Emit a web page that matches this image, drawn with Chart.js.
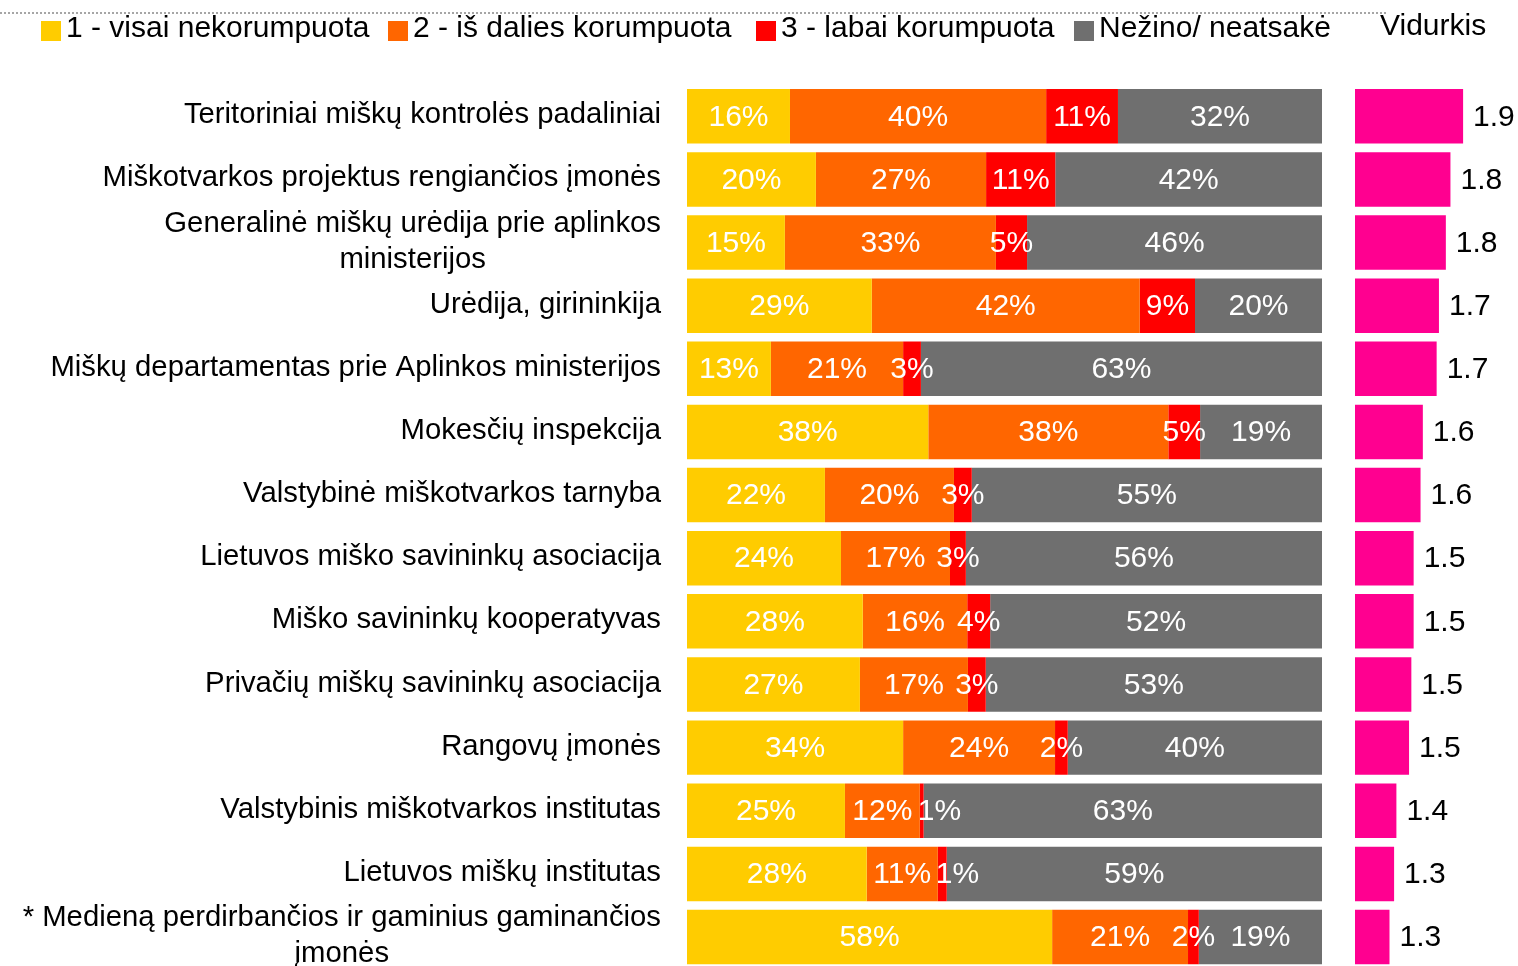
<!DOCTYPE html>
<html><head><meta charset="utf-8">
<script src="https://cdn.jsdelivr.net/npm/chart.js@4.4.0/dist/chart.umd.min.js"></script>
<style>
html,body{margin:0;padding:0;background:#fff;overflow:hidden;width:1518px;height:966px;}
#wrap{position:relative;width:1518px;height:966px;overflow:hidden;font-family:"Liberation Sans",Arial,sans-serif;}
canvas{position:absolute;top:0;}
#c1{left:0px}
#c2{left:1340px}
.dots{position:absolute;left:0;top:12px;width:1386px;height:0;border-top:2px dotted #a6a6a6;}
.lg{position:absolute;font-size:30px;line-height:30px;color:#000;white-space:nowrap;top:12px;}
.sw{position:absolute;width:20px;height:20px;top:21px;}
</style></head>
<body><div id="wrap">
<canvas id="c1" width="1340" height="980"></canvas>
<canvas id="c2" width="178" height="980"></canvas>
<div class="dots"></div>
<div id="legend"></div>
</div>
<script>
// ---------- DATA ----------
const categories = [
  ["Teritoriniai miškų kontrolės padaliniai"],
  ["Miškotvarkos projektus rengiančios įmonės"],
  ["Generalinė miškų urėdija prie aplinkos", "ministerijos"],
  ["Urėdija, girininkija"],
  ["Miškų departamentas prie Aplinkos ministerijos"],
  ["Mokesčių inspekcija"],
  ["Valstybinė miškotvarkos tarnyba"],
  ["Lietuvos miško savininkų asociacija"],
  ["Miško savininkų kooperatyvas"],
  ["Privačių miškų savininkų asociacija"],
  ["Rangovų įmonės"],
  ["Valstybinis miškotvarkos institutas"],
  ["Lietuvos miškų institutas"],
  ["* Medieną perdirbančios ir gaminius gaminančios", "įmonės"]
];
const seriesNames = ["1 - visai nekorumpuota", "2 - iš dalies korumpuota", "3 - labai korumpuota", "Nežino/ neatsakė"];
const visaiNekorumpuota = [16.2, 20.3, 15.4, 29.1, 13.2, 38.0, 21.7, 24.3, 27.6, 27.2, 34.0, 24.9, 28.3, 57.5];
const isDaliesKorumpuota = [40.3, 26.8, 33.2, 42.2, 20.8, 37.8, 20.3, 17.2, 16.4, 17.0, 23.9, 11.8, 11.2, 21.4];
const labaiKorumpuota = [11.3, 10.9, 4.9, 8.7, 2.8, 5.0, 2.8, 2.5, 3.6, 2.8, 2.0, 0.6, 1.4, 1.7];
const nezinoNeatsake = [32.1, 42.0, 46.4, 20.0, 63.1, 19.2, 55.1, 56.2, 52.1, 52.9, 40.0, 62.8, 59.1, 19.4];
const vidurkisTitle = "Vidurkis";
const vidurkis = [1.94, 1.83, 1.79, 1.73, 1.71, 1.59, 1.57, 1.51, 1.51, 1.49, 1.47, 1.36, 1.34, 1.30];

// ---------- STYLE ----------
const colors = ["#FFCC00", "#FF6600", "#FF0000", "#6F6F6F"];
const pink = "#FF0090";
const FONT = '"Liberation Sans", Arial, sans-serif';
const FS = 30;
const FS_CAT = 29.3;

// legend (HTML text)
const legendBoxX = [41, 388, 756, 1074];
const lg = document.getElementById('legend');
seriesNames.forEach((n, i) => {
  const b = document.createElement('div'); b.className = 'sw';
  b.style.left = legendBoxX[i] + 'px'; b.style.background = colors[i]; lg.appendChild(b);
  const t = document.createElement('div'); t.className = 'lg';
  t.style.left = (legendBoxX[i] + 25) + 'px'; t.textContent = n; lg.appendChild(t);
});
const vt = document.createElement('div'); vt.className = 'lg';
vt.style.left = '1380px'; vt.style.top = '10px'; vt.textContent = vidurkisTitle; lg.appendChild(vt);

// plugins
const catLabels = {
  id: 'catLabels',
  afterDraw(chart) {
    const ctx = chart.ctx, ys = chart.scales.y;
    ctx.save();
    ctx.font = FS_CAT + 'px ' + FONT; ctx.fillStyle = '#000';
    ctx.textAlign = 'center'; ctx.textBaseline = 'middle';
    const rightEdge = 661, lh = 36;
    categories.forEach((lines, i) => {
      const yc = ys.getPixelForValue(i) - 1;
      const w = Math.max(...lines.map(l => ctx.measureText(l).width));
      const cx = rightEdge - w / 2;
      const y0 = yc - (lines.length - 1) * lh / 2;
      lines.forEach((l, k) => ctx.fillText(l, cx, y0 + k * lh));
    });
    ctx.restore();
  }
};
const series = [visaiNekorumpuota, isDaliesKorumpuota, labaiKorumpuota, nezinoNeatsake];
const segLabels = {
  id: 'segLabels',
  afterDatasetsDraw(chart) {
    const ctx = chart.ctx;
    ctx.save();
    ctx.font = FS + 'px ' + FONT; ctx.fillStyle = '#fff'; ctx.textBaseline = 'middle';
    chart.data.datasets.forEach((ds, di) => {
      chart.getDatasetMeta(di).data.forEach((bar, i) => {
        const r = Math.round(series[di][i]);
        const txt = r + '%';
        const l = Math.min(bar.x, bar.base), rr = Math.max(bar.x, bar.base);
        if (r <= 1) { ctx.textAlign = 'left'; ctx.fillText(txt, l - 2, bar.y + 1); }
        else { ctx.textAlign = 'center'; ctx.fillText(txt, (l + rr) / 2, bar.y + 1); }
      });
    });
    ctx.restore();
  }
};
const valLabels = {
  id: 'valLabels',
  afterDatasetsDraw(chart) {
    const ctx = chart.ctx;
    ctx.save();
    ctx.font = FS + 'px ' + FONT; ctx.fillStyle = '#000';
    ctx.textAlign = 'left'; ctx.textBaseline = 'middle';
    chart.getDatasetMeta(0).data.forEach((bar, i) => {
      ctx.fillText(vidurkis[i].toFixed(1), bar.x + 10, bar.y + 1);
    });
    ctx.restore();
  }
};

// 100% stacked: each row normalised to its total
const rowTotals = categories.map((_, i) => series.reduce((s, d) => s + d[i], 0));
const shares = series.map(d => d.map((v, i) => v / rowTotals[i] * 100));
const labelsText = categories.map(c => c.join(' '));
const areaTop = 84.7, areaBottom = 968.6, canvasH = 980;
const barPct = 0.863;

new Chart(document.getElementById('c1'), {
  type: 'bar',
  data: {
    labels: labelsText,
    datasets: shares.map((d, i) => ({
      label: seriesNames[i], data: d, backgroundColor: colors[i], borderWidth: 0,
      barPercentage: barPct, categoryPercentage: 1
    }))
  },
  options: {
    indexAxis: 'y', responsive: false, animation: false,
    layout: { padding: { left: 687, right: 1340 - 1322, top: areaTop, bottom: canvasH - areaBottom } },
    plugins: { legend: { display: false }, tooltip: { enabled: false } },
    scales: {
      x: { stacked: true, min: 0, max: 100, display: false },
      y: { stacked: true, display: false }
    }
  },
  plugins: [segLabels, catLabels]
});

new Chart(document.getElementById('c2'), {
  type: 'bar',
  data: {
    labels: labelsText,
    datasets: [{ label: vidurkisTitle, data: vidurkis, backgroundColor: pink, borderWidth: 0,
      barPercentage: barPct, categoryPercentage: 1 }]
  },
  options: {
    indexAxis: 'y', responsive: false, animation: false,
    layout: { padding: { left: 15, right: 2, top: areaTop, bottom: canvasH - areaBottom } },
    plugins: { legend: { display: false }, tooltip: { enabled: false } },
    scales: {
      x: { min: 1, max: 2.4, display: false },
      y: { display: false }
    }
  },
  plugins: [valLabels]
});
</script>
</body></html>
